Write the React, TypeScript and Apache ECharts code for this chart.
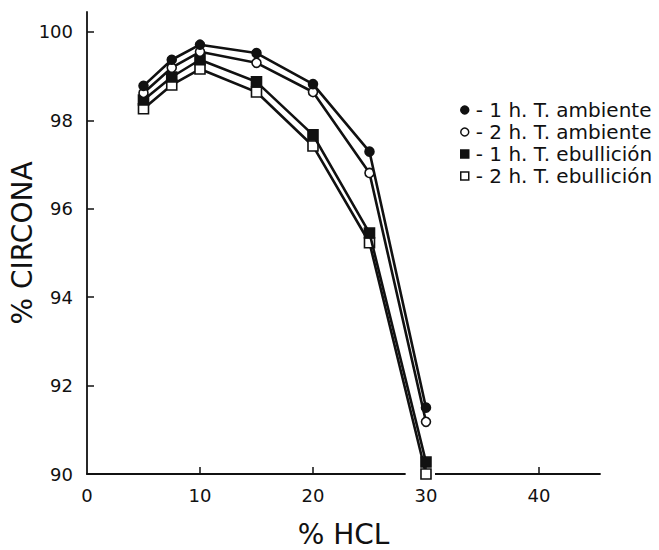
import React, { useEffect, useRef } from "react";
import * as echarts from "echarts";

const hcl = [5, 7.5, 10, 15, 20, 25, 30];
const amb1h = [98.78, 99.37, 99.71, 99.52, 98.82, 97.29, 91.5];
const amb2h = [98.62, 99.19, 99.55, 99.3, 98.64, 96.81, 91.18];
const ebu1h = [98.46, 98.98, 99.37, 98.87, 97.67, 95.45, 90.27];
const ebu2h = [98.26, 98.8, 99.16, 98.64, 97.42, 95.23, 90.0];
const seriesNames = [
  "- 1 h. T. ambiente",
  "- 2 h. T. ambiente",
  "- 1 h. T. ebullición",
  "- 2 h. T. ebullición",
];
const yTicks = [90, 92, 94, 96, 98, 100];
const xTicks = [0, 10, 20, 30, 40];

const FONT = "DejaVu Sans";

export default function App() {
  const ref = useRef<HTMLDivElement>(null);
  useEffect(() => {
    if (!ref.current) return;
    const chart = echarts.init(ref.current, null, { renderer: "svg" });
    const values = [amb1h, amb2h, ebu1h, ebu2h];
    const symbols = ["circle", "circle", "rect", "rect"];
    const filled = [true, false, true, false];
    const series = values.map((vals, i) => ({
      name: seriesNames[i],
      type: "line",
      data: hcl.map((x, j) => [x, vals[j]]),
      symbol: symbols[i],
      symbolSize: symbols[i] === "circle" ? 9 : 10,
      showAllSymbol: true,
      lineStyle: { color: "#111", width: 2.6 },
      itemStyle: {
        color: filled[i] ? "#111" : "#fff",
        borderColor: "#111",
        borderWidth: 1.6,
      },
      z: 10 - i,
    }));
    chart.setOption({
      animation: false,
      backgroundColor: "#fff",
      grid: {
        left: 87,
        right: 59,
        top: 12,
        bottom: 76,
        containLabel: false,
        outerBoundsMode: "none",
      },
      legend: {
        orient: "vertical",
        left: 455,
        top: 95,
        itemGap: 2,
        itemWidth: 8,
        itemHeight: 8,
        selectedMode: false,
        textStyle: {
          fontFamily: FONT,
          fontSize: 20,
          lineHeight: 20,
          color: "#111",
          padding: [0, 0, 0, 2],
        },
        data: seriesNames.map((n, i) => ({
          name: n,
          icon: symbols[i],
          itemStyle: {
            color: filled[i] ? "#111" : "#fff",
            borderColor: "#111",
            borderWidth: 1.5,
          },
        })),
      },
      xAxis: {
        type: "value",
        min: 0,
        max: 45.4,
        name: "% HCL",
        nameLocation: "middle",
        nameGap: 46,
        nameMoveOverlap: false,
        nameTextStyle: { fontFamily: FONT, fontSize: 28, color: "#111" },
        splitLine: { show: false },
        axisLine: { lineStyle: { color: "#111", width: 1.8 } },
        axisTick: {
          inside: true,
          length: 7,
          customValues: [10, 20, 30, 40],
          lineStyle: { color: "#111", width: 1.5 },
        },
        axisLabel: {
          customValues: xTicks,
          margin: 12,
          fontFamily: FONT,
          fontSize: 18,
          color: "#111",
        },
      },
      yAxis: {
        type: "value",
        min: 90,
        max: 100.45,
        name: "% CIRCONA",
        nameLocation: "middle",
        nameGap: 51,
        nameRotate: 90,
        nameMoveOverlap: false,
        nameTextStyle: { fontFamily: FONT, fontSize: 28, color: "#111" },
        splitLine: { show: false },
        axisLine: { show: true, lineStyle: { color: "#111", width: 1.8 } },
        axisTick: {
          show: true,
          inside: true,
          length: 7,
          customValues: [92, 94, 96, 98, 100],
          lineStyle: { color: "#111", width: 1.5 },
        },
        axisLabel: {
          customValues: yTicks,
          margin: 14,
          fontFamily: FONT,
          fontSize: 18,
          color: "#111",
        },
      },
      series,
    });
    // white break in the x axis line around x = 30, as in the reference
    const a = chart.convertToPixel({ gridIndex: 0 }, [28.2, 90]) as number[];
    const b = chart.convertToPixel({ gridIndex: 0 }, [30.8, 90]) as number[];
    chart.setOption({
      graphic: [
        {
          type: "rect",
          z: 1,
          shape: { x: a[0], y: a[1] - 2, width: b[0] - a[0], height: 4 },
          style: { fill: "#fff" },
        },
      ],
    });
    return () => chart.dispose();
  }, []);
  return (
    <div
      ref={ref}
      style={{ position: "absolute", left: 0, top: 0, width: 659, height: 550 }}
    />
  );
}
